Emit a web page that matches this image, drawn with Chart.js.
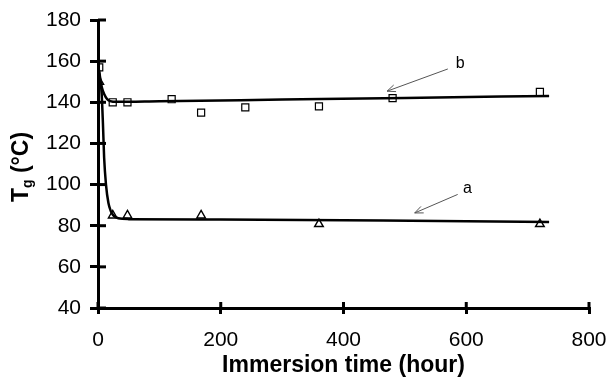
<!DOCTYPE html>
<html>
<head>
<meta charset="utf-8">
<script src="https://cdn.jsdelivr.net/npm/chart.js@4/dist/chart.umd.min.js"></script>
<style>
  html, body { margin: 0; padding: 0; background: #fff; }
  #wrap { width: 610px; height: 385px; }
</style>
</head>
<body>
<div id="wrap"><canvas id="c" width="610" height="385"></canvas></div>
<script>
// ---- data ----
// series b (squares)
const bTime = [2, 24, 48, 120, 168, 240, 360, 480, 720];
const bTg   = [157, 140, 140, 141.5, 135, 137.5, 138, 142, 145];
// series a (triangles)
const aTime = [2, 24, 48, 168, 360, 720];
const aTg   = [150, 85, 85, 85, 80.8, 80.8];
// fitted curve b
const bFitTime = [0, 3, 6, 10, 15, 20, 30, 100, 300, 500, 735];
const bFitTg   = [158, 152, 147.5, 144, 141.5, 140.6, 140.2, 140.5, 141.3, 142.1, 143.1];
// fitted curve a
const aFitTime = [0, 3, 6, 8, 10, 13, 17, 21, 25, 33, 50, 200, 400, 600, 735];
const aFitTg   = [158, 153, 144, 130, 113, 100, 91, 87, 85, 83.6, 83.2, 83, 82.6, 82.2, 81.8];
// axis ticks
const xTicks = [0, 200, 400, 600, 800];
const yTicks = [40, 60, 80, 100, 120, 140, 160, 180];
// annotation labels
const labels = ['a', 'b'];

const toPts = (xs, ys) => xs.map((x, i) => ({x: x, y: ys[i]}));

const FONT = "'Liberation Sans', Arial, sans-serif";

const annotations = [
  {text: labels[1], tail: {x: 570, y: 156.2}, tip: {x: 471, y: 145.4}, at: {x: 590, y: 158.6}},
  {text: labels[0], tail: {x: 586, y: 95.2}, tip: {x: 516, y: 86.2}, at: {x: 602, y: 98}}
];

const extras = {
  id: 'extras',
  afterDraw(chart) {
    const ctx = chart.ctx;
    const xs = chart.scales.x, ys = chart.scales.y;
    const ca = chart.chartArea;
    ctx.save();
    // inner halves of ticks (ticks cross the axes)
    ctx.strokeStyle = '#000';
    ctx.lineWidth = 3;
    ys.ticks.forEach(t => {
      const py = ys.getPixelForValue(t.value);
      ctx.beginPath(); ctx.moveTo(ca.left, py); ctx.lineTo(ca.left + 8, py); ctx.stroke();
    });
    xs.ticks.forEach(t => {
      const px = xs.getPixelForValue(t.value);
      ctx.beginPath(); ctx.moveTo(px, ca.bottom); ctx.lineTo(px, ca.bottom - 6); ctx.stroke();
    });
    // arrows with labels
    ctx.strokeStyle = '#555';
    ctx.fillStyle = '#000';
    ctx.lineWidth = 1;
    annotations.forEach(a => {
      const x1 = xs.getPixelForValue(a.tail.x), y1 = ys.getPixelForValue(a.tail.y);
      const x2 = xs.getPixelForValue(a.tip.x), y2 = ys.getPixelForValue(a.tip.y);
      ctx.beginPath(); ctx.moveTo(x1, y1); ctx.lineTo(x2, y2); ctx.stroke();
      const ang = Math.atan2(y2 - y1, x2 - x1);
      const L = 9, w = 0.4;
      ctx.beginPath();
      ctx.moveTo(x2 - L * Math.cos(ang - w), y2 - L * Math.sin(ang - w));
      ctx.lineTo(x2, y2);
      ctx.lineTo(x2 - L * Math.cos(ang + w), y2 - L * Math.sin(ang + w));
      ctx.stroke();
      ctx.font = '16px ' + FONT;
      ctx.textAlign = 'center';
      ctx.textBaseline = 'middle';
      ctx.fillText(a.text, xs.getPixelForValue(a.at.x), ys.getPixelForValue(a.at.y));
    });
    // y axis title with subscript
    ctx.translate(20, 167);
    ctx.rotate(-Math.PI / 2);
    ctx.fillStyle = '#000';
    ctx.textBaseline = 'alphabetic';
    ctx.textAlign = 'left';
    const big = 'bold 23px ' + FONT, small = 'bold 14px ' + FONT;
    ctx.font = big; const wT = ctx.measureText('T').width;
    ctx.font = small; const wg = ctx.measureText('g').width;
    ctx.font = big; const wR = ctx.measureText(' (°C)').width;
    const total = wT + wg + wR;
    let x0 = -total / 2;
    const base = 8;
    ctx.font = big; ctx.fillText('T', x0, base); x0 += wT;
    ctx.font = small; ctx.fillText('g', x0, base + 4); x0 += wg;
    ctx.font = big; ctx.fillText(' (°C)', x0, base);
    ctx.restore();
  }
};

new Chart(document.getElementById('c'), {
  type: 'scatter',
  data: {
    datasets: [
      {label: 'b fit', data: toPts(bFitTime, bFitTg), showLine: true, borderColor: '#000',
       borderWidth: 2.5, pointRadius: 0, cubicInterpolationMode: 'monotone', fill: false},
      {label: 'a fit', data: toPts(aFitTime, aFitTg), showLine: true, borderColor: '#000',
       borderWidth: 2.5, pointRadius: 0, cubicInterpolationMode: 'monotone', fill: false},
      {label: 'b', data: toPts(bTime, bTg), pointStyle: 'rect', pointRadius: 5,
       borderColor: '#000', backgroundColor: 'rgba(255,255,255,0)', borderWidth: 1.2, showLine: false},
      {label: 'a', data: toPts(aTime, aTg), pointStyle: 'triangle', pointRadius: 5,
       borderColor: '#000', backgroundColor: 'rgba(255,255,255,0)', borderWidth: 1.4, showLine: false}
    ]
  },
  options: {
    responsive: false,
    animation: false,
    devicePixelRatio: 1,
    layout: {padding: {top: 20, right: 21, left: 0, bottom: 0}},
    plugins: {legend: {display: false}, tooltip: {enabled: false}},
    scales: {
      x: {
        type: 'linear', min: 0, max: 800,
        afterFit(s) { s.height = 77; s.paddingLeft = 0; s.paddingRight = 0; },
        afterBuildTicks(s) { s.ticks = xTicks.map(v => ({value: v})); },
        border: {display: true, color: '#000', width: 3},
        grid: {display: true, drawOnChartArea: false, drawTicks: true, tickLength: 6, color: '#000', lineWidth: 3},
        ticks: {color: '#000', font: {family: FONT, size: 21}, padding: 14, maxRotation: 0},
        title: {display: true, text: 'Immersion time (hour)', color: '#000',
                font: {family: FONT, size: 23, weight: 'bold'}, padding: {top: 0, bottom: 6}}
      },
      y: {
        type: 'linear', min: 40, max: 180,
        afterFit(s) { s.width = 98; s.paddingTop = 0; s.paddingBottom = 0; },
        afterBuildTicks(s) { s.ticks = yTicks.map(v => ({value: v})); },
        border: {display: true, color: '#000', width: 3},
        grid: {display: true, drawOnChartArea: false, drawTicks: true, tickLength: 8, color: '#000', lineWidth: 3},
        ticks: {color: '#000', font: {family: FONT, size: 21}, padding: 9}
      }
    }
  },
  plugins: [extras]
});
</script>
</body>
</html>
